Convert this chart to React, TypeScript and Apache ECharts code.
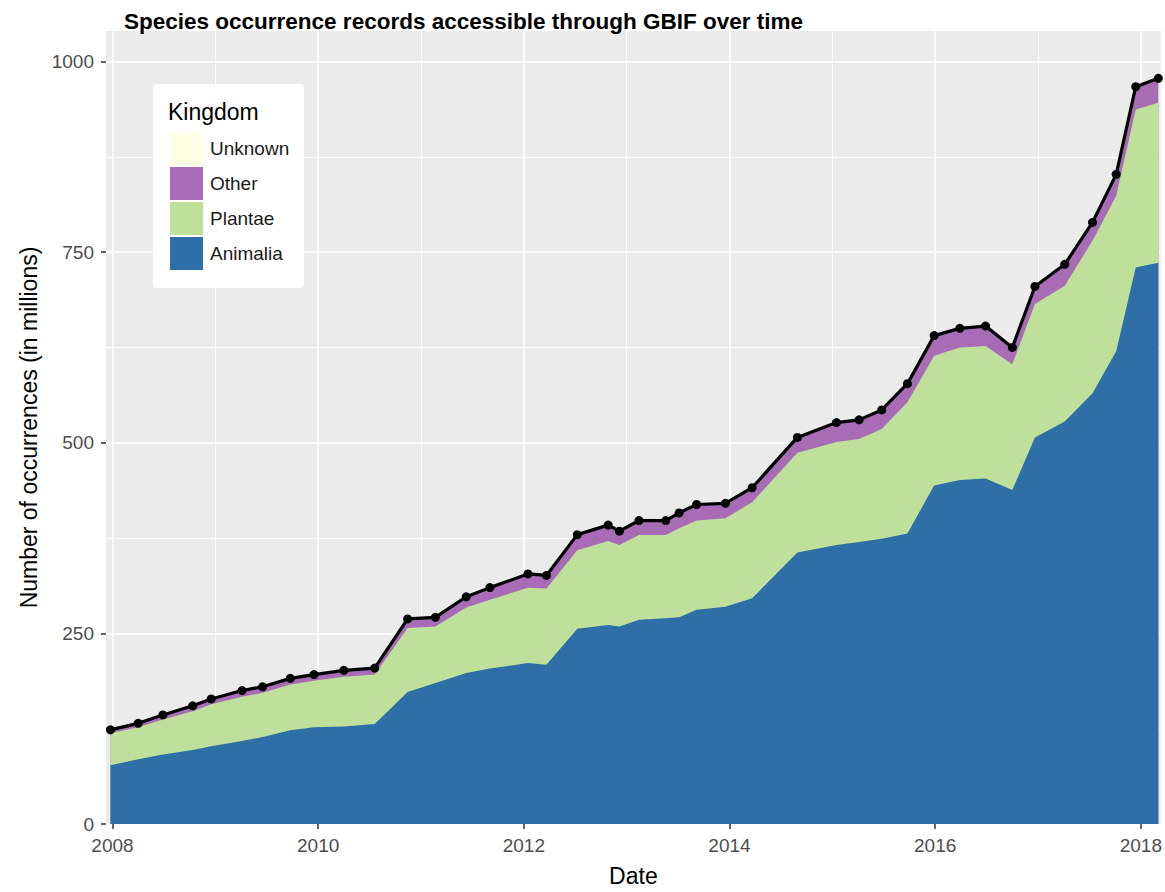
import React, { useEffect, useRef } from "react";
import * as echarts from "echarts";

// Decimal-year snapshot dates
const dates = [2007.98, 2008.25, 2008.49, 2008.78, 2008.96, 2009.26, 2009.46, 2009.73, 2009.96, 2010.25, 2010.55, 2010.87, 2011.14, 2011.44, 2011.67, 2012.04, 2012.22, 2012.52, 2012.82, 2012.93, 2013.12, 2013.38, 2013.51, 2013.68, 2013.96, 2014.22, 2014.66, 2015.04, 2015.26, 2015.48, 2015.73, 2015.99, 2016.24, 2016.49, 2016.75, 2016.97, 2017.26, 2017.53, 2017.76, 2017.95, 2018.17];

// Occurrences in millions, per kingdom
const animalia = [77, 85, 91, 97, 102, 109, 114, 123, 127, 128, 131, 173, 185, 198, 204, 211, 209, 256, 261, 259, 268, 270, 271, 281, 285, 296, 356, 366, 370, 374, 381, 444, 451, 453, 438, 507, 528, 565, 620, 730, 736];
const plantae = [42, 42, 46, 51, 55, 58, 58, 60, 61, 65, 65, 84, 74, 86, 90, 99, 100, 103, 110, 107, 111, 109, 117, 117, 116, 126, 131, 135, 135, 144, 172, 170, 174, 174, 165, 175, 178, 200, 204, 207, 210];
const other = [3.5, 4, 5, 6, 6, 7, 7, 7, 7, 7.5, 7.5, 11, 11, 13, 15, 17, 16, 19.5, 20, 17, 18, 18, 19, 20, 18.5, 18, 19, 24.5, 24, 24, 23.5, 25.5, 24, 25, 21, 22, 27, 23, 27, 29, 31];
const unknown = [1, 1, 1, 1, 1, 1, 1, 1, 1, 1, 1, 1, 1, 1, 1, 1, 1, 1, 1, 1, 1, 1, 1, 1, 1, 1, 1, 1, 1, 1, 1, 1, 1, 1, 1, 1, 1, 1, 1, 1, 1];

const yearTicks = [2008, 2010, 2012, 2014, 2016, 2018];
const minorYearTicks = [2009, 2011, 2013, 2015, 2017];
const yTicks = [0, 250, 500, 750, 1000];
const minorYTicks = [125, 375, 625, 875];

const kingdoms = ["Unknown", "Other", "Plantae", "Animalia"];
const kingdomColors: Record<string, string> = {
  Unknown: "#FFFFE5",
  Other: "#A86CB7",
  Plantae: "#BEE09B",
  Animalia: "#2D6FA6",
};

const X_MIN = 2007.937;
const X_MAX = 2018.194;
const Y_MIN = 0;
const Y_MAX = 1040;
const FONT = '"Liberation Sans", Arial, sans-serif';

export default function App() {
  const ref = useRef<HTMLDivElement>(null);

  useEffect(() => {
    if (!ref.current) return;
    const chart = echarts.init(ref.current, undefined, { renderer: "svg" });

    // stack the layers bottom-up: Animalia, Plantae, Other, Unknown
    const layers: Record<string, number[]> = {
      Animalia: animalia,
      Plantae: plantae,
      Other: other,
      Unknown: unknown,
    };
    const stackOrder = ["Animalia", "Plantae", "Other", "Unknown"];
    const cumulative: Record<string, number[]> = {};
    let running = dates.map(() => 0);
    stackOrder.forEach((name) => {
      running = running.map((v, i) => v + layers[name][i]);
      cumulative[name] = running.slice();
    });
    const totals = cumulative["Unknown"];

    // draw the tallest cumulative layer first so lower layers paint over it
    const drawOrder = ["Unknown", "Other", "Plantae", "Animalia"];
    const areaSeries = drawOrder.map((name, k) => ({
      name,
      type: "line",
      xAxisIndex: 0,
      yAxisIndex: 0,
      symbol: "none",
      lineStyle: { width: 0 },
      itemStyle: { color: kingdomColors[name] },
      areaStyle: { color: kingdomColors[name], opacity: 1, origin: "start" },
      data: dates.map((d, i) => [d, cumulative[name][i]]),
      z: 2 + k * 0.1,
    }));

    const minorSplit = { show: true, lineStyle: { color: "#FFFFFF", width: 1 } };
    const majorSplit = { show: true, lineStyle: { color: "#FFFFFF", width: 1.6 } };

    chart.setOption({
      animation: false,
      textStyle: { fontFamily: FONT },
      title: {
        text: "Species occurrence records accessible through GBIF over time",
        left: 119,
        top: 5,
        textStyle: { fontSize: 22.5, fontWeight: "bold", color: "#000000", fontFamily: FONT },
      },
      grid: {
        left: 106,
        right: 0,
        top: 31,
        bottom: 65,
        show: true,
        backgroundColor: "#EBEBEB",
        borderWidth: 0,
        containLabel: false,
      },
      legend: {
        data: kingdoms,
        orient: "vertical",
        left: 165,
        top: 127,
        padding: 5,
        icon: "rect",
        itemWidth: 33,
        itemHeight: 33,
        itemGap: 2,
        itemStyle: { borderWidth: 0 },
        textStyle: { fontSize: 19, color: "#1A1A1A", fontFamily: FONT, padding: [0, 0, 0, 2] },
        selectedMode: false,
        z: 20,
      },
      graphic: [
        {
          type: "rect",
          shape: { x: 153, y: 84, width: 151, height: 204, r: 4 },
          style: { fill: "#FFFFFF" },
          z: 10,
        },
        {
          type: "text",
          x: 168,
          y: 112,
          style: {
            text: "Kingdom",
            fontSize: 23,
            fontFamily: FONT,
            fill: "#000000",
            verticalAlign: "middle",
          },
          z: 11,
        },
      ],
      xAxis: [
        {
          type: "value",
          min: X_MIN,
          max: X_MAX,
          name: "Date",
          nameLocation: "middle",
          nameGap: 40,
          nameTextStyle: { fontSize: 23, color: "#000000", fontFamily: FONT },
          axisLine: { show: false },
          axisTick: { show: true, length: 5, customValues: yearTicks, lineStyle: { color: "#333333", width: 1.5 } },
          axisLabel: {
            customValues: yearTicks,
            fontSize: 19,
            color: "#4D4D4D",
            margin: 12,
            formatter: (v: number) => String(Math.round(v)),
          },
          splitLine: majorSplit,
        },
        {
          type: "value",
          min: X_MIN,
          max: X_MAX,
          position: "bottom",
          axisLine: { show: false },
          axisTick: { show: false, customValues: minorYearTicks },
          axisLabel: { show: false, customValues: minorYearTicks },
          splitLine: minorSplit,
        },
      ],
      yAxis: [
        {
          type: "value",
          min: Y_MIN,
          max: Y_MAX,
          name: "Number of occurrences (in millions)",
          nameLocation: "middle",
          nameGap: 60,
          nameTextStyle: { fontSize: 23, color: "#000000", fontFamily: FONT },
          axisLine: { show: false },
          axisTick: { show: true, length: 5, customValues: yTicks, lineStyle: { color: "#333333", width: 1.5 } },
          axisLabel: {
            customValues: yTicks,
            fontSize: 19,
            color: "#4D4D4D",
            margin: 12,
            formatter: (v: number) => String(Math.round(v)),
          },
          splitLine: majorSplit,
        },
        {
          type: "value",
          min: Y_MIN,
          max: Y_MAX,
          position: "left",
          axisLine: { show: false },
          axisTick: { show: false, customValues: minorYTicks },
          axisLabel: { show: false, customValues: minorYTicks },
          splitLine: minorSplit,
        },
      ],
      series: [
        ...areaSeries,
        {
          name: "Total",
          type: "line",
          xAxisIndex: 0,
          yAxisIndex: 0,
          data: dates.map((d, i) => [d, totals[i]]),
          symbol: "circle",
          symbolSize: 9,
          itemStyle: { color: "#000000" },
          lineStyle: { color: "#000000", width: 3.2 },
          z: 5,
        },
      ],
    });

    return () => chart.dispose();
  }, []);

  return (
    <div
      ref={ref}
      style={{ position: "fixed", left: 0, top: 0, width: 1165, height: 892, background: "#FFFFFF" }}
    />
  );
}
